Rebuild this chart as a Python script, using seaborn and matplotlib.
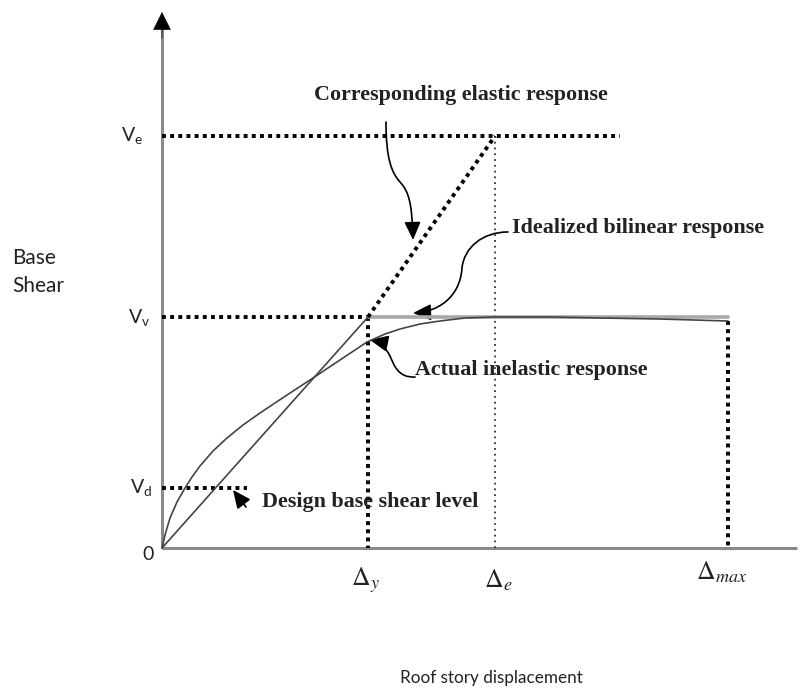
import numpy as np
import pandas as pd
import seaborn as sns
import matplotlib.pyplot as plt
from matplotlib.patches import FancyArrowPatch
from matplotlib.path import Path

# key points of the pushover diagram (arbitrary units)
disp_y = 20.6
disp_e = 33.3
disp_max = 56.6
V_y = 23.1
V_e = 41.2
V_d = 6.0

# actual inelastic response
actual_disp = [0, 0.3, 0.8, 1.5, 2.3, 3.0, 3.8, 5.1, 6.5, 8.1, 9.8, 12.5, 14.8, 17.8,
               20.5, 22.3, 23.8, 25.8, 27.8, 30.3, 33.3, 38.8, 43.8, 49.8, 56.6]
actual_shear = [0, 1.3, 3.0, 4.6, 6.0, 7.1, 8.2, 9.7, 11.0, 12.3, 13.5, 15.3, 16.8, 18.8,
                20.6, 21.4, 21.9, 22.4, 22.7, 23.0, 23.1, 23.1, 23.0, 22.9, 22.7]

elastic_disp = [0, disp_y]
elastic_shear = [0, V_y]
elastic_ext_disp = [disp_y, disp_e]
elastic_ext_shear = [V_y, V_e]
bilinear_disp = [disp_y, disp_max]
bilinear_shear = [V_y, V_y]

sns.set_theme(style="white")
plt.rcParams['font.family'] = ['Lato', 'DejaVu Sans']
plt.rcParams['mathtext.fontset'] = 'stix'

fig = plt.figure(figsize=(8.06, 6.88), dpi=100)
ax = fig.add_axes([0, 0, 1, 1])
ax.set_xlim(-16.2, 64.4)
ax.set_ylim(-14.0, 54.8)
ax.axis('off')

# axes with arrows
axis_col = '#8a8a8a'
ax.plot([0, 0], [0, 52.0], color=axis_col, lw=2.2, solid_capstyle='butt')
ax.plot([0, 63.5], [0, 0], color=axis_col, lw=2.2, solid_capstyle='butt')
ax.annotate('', xy=(0, 53.6), xytext=(0, 51.0),
            arrowprops=dict(arrowstyle='-|>,head_length=0.6,head_width=0.3', color='black',
                            lw=0.5, mutation_scale=20, shrinkA=0, shrinkB=0))
ax.annotate('', xy=(65.2, 0), xytext=(62.5, 0),
            arrowprops=dict(arrowstyle='-|>,head_length=0.6,head_width=0.3', color='black',
                            lw=0.5, mutation_scale=20, shrinkA=0, shrinkB=0))

thick_dot = dict(color='black', lw=2.8, linestyle=(0, (1.0, 1.1)), dash_capstyle='butt')
thin_dot = dict(color='#333333', lw=1.3, linestyle=(0, (1.0, 2.2)))

# guide lines
ax.plot([0, 45.8], [V_e, V_e], **thick_dot)
ax.plot([0, disp_y], [V_y, V_y], **thick_dot)
ax.plot([0, 8.5], [V_d, V_d], **thick_dot)
ax.plot([disp_y, disp_y], [V_y, 0], **thick_dot)
ax.plot([disp_max, disp_max], [22.7, 0], **thick_dot)
ax.plot([disp_e, disp_e], [V_e, 0], **thin_dot)

# responses
sns.lineplot(x=bilinear_disp, y=bilinear_shear, ax=ax, color='#a8a8a8', linewidth=2.6,
             sort=False, estimator=None)
sns.lineplot(x=elastic_disp, y=elastic_shear, ax=ax, color='#444444', linewidth=1.2,
             sort=False, estimator=None)
sns.lineplot(x=actual_disp, y=actual_shear, ax=ax, color='#444444', linewidth=1.2,
             sort=False, estimator=None, solid_joinstyle='round')
ax.plot(elastic_ext_disp, elastic_ext_shear, **thick_dot)

# annotation arrows
def curved_arrow(verts, codes):
    arr = FancyArrowPatch(path=Path(verts, codes),
                          arrowstyle='-|>,head_length=0.55,head_width=0.25',
                          mutation_scale=20, color='black', lw=1.2)
    ax.add_patch(arr)

C4 = Path.CURVE4
curved_arrow([(22.4, 42.6), (22.4, 38.8), (23.0, 37.5), (23.8, 36.6),
              (24.7, 35.6), (25.0, 34.5), (25.1, 30.8)],
             [Path.MOVETO, C4, C4, C4, C4, C4, C4])
curved_arrow([(34.6, 31.6), (32.0, 31.6), (30.2, 30.0), (30.0, 28.0),
              (29.8, 25.0), (27.5, 23.6), (25.1, 23.5)],
             [Path.MOVETO, C4, C4, C4, C4, C4, C4])
curved_arrow([(25.3, 17.1), (23.6, 17.0), (23.2, 18.3), (22.8, 19.2),
              (22.4, 20.0), (21.8, 20.6), (20.8, 20.8)],
             [Path.MOVETO, C4, C4, C4, C4, C4, C4])
curved_arrow([(8.4, 4.1), (7.1, 5.8)], [Path.MOVETO, Path.LINETO])

serif = dict(family='Liberation Serif', fontweight='bold', fontsize=15.8, color='#222222')
ax.text(29.9, 45.3, 'Corresponding elastic response', ha='center', va='center', **serif)
ax.text(35.0, 32.0, 'Idealized bilinear response', ha='left', va='center', **serif)
ax.text(25.3, 17.8, 'Actual inelastic response', ha='left', va='center', **serif)
ax.text(10.0, 4.6, 'Design base shear level', ha='left', va='center', **serif)

sans = dict(fontsize=14, color='#222222')
ax.text(-1.9, V_e, r'$\mathregular{V_e}$', ha='right', va='center', **sans)
ax.text(-1.2, V_y, r'$\mathregular{V_v}$', ha='right', va='center', **sans)
ax.text(-1.0, V_d, r'$\mathregular{V_d}$', ha='right', va='center', **sans)
ax.text(-1.4, -0.7, '0', ha='center', va='center', **sans)
ax.text(-15.0, 27.6, 'Base\nShear', ha='left', va='center', linespacing=1.55,
        fontsize=15, color='#222222')
ax.text(32.9, -13.0, 'Roof story displacement', ha='center', va='center',
        fontsize=12.3, color='#222222')

delta = dict(fontsize=18.5, color='#222222')
ax.text(20.3, -3.2, r'$\Delta_y$', ha='center', va='center', **delta)
ax.text(33.6, -3.2, r'$\Delta_e$', ha='center', va='center', **delta)
ax.text(56.0, -2.4, r'$\Delta_{max}$', ha='center', va='center', **delta)

fig.savefig('out.png', dpi=100)
